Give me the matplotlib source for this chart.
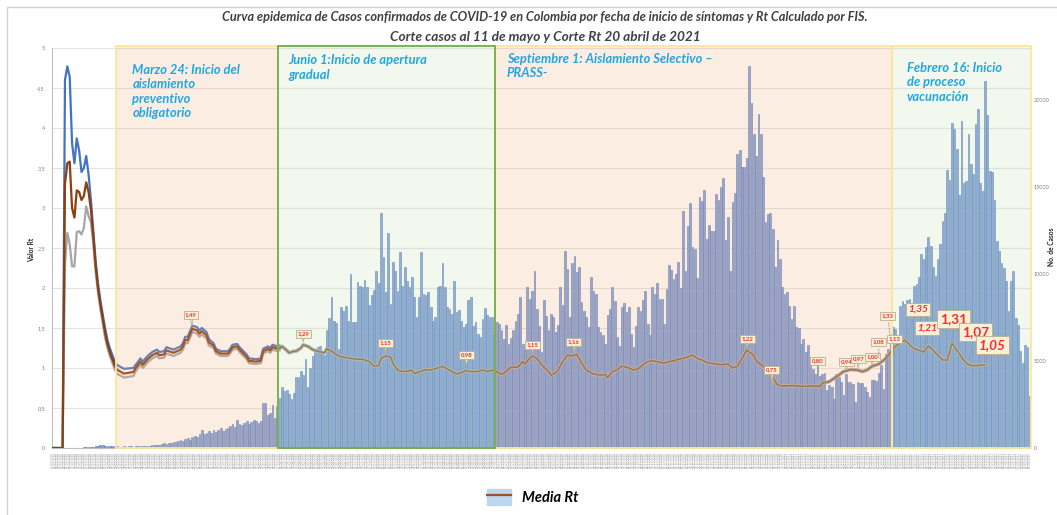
import numpy as np
import pandas as pd
import matplotlib
matplotlib.use('Agg')
import matplotlib.pyplot as plt
from matplotlib.patches import Rectangle, Patch
from matplotlib.lines import Line2D
from matplotlib.legend_handler import HandlerTuple
from matplotlib.ticker import FuncFormatter

plt.rcParams['font.family'] = ['Lato', 'DejaVu Sans']

# casos diarios por fecha de inicio de sintomas (desde 26/02/2020)
inicio = '2020-02-26'
casos = [
    # feb 26 - mar 24
    0, 0, 0, 0, 0, 0, 2, 3, 5, 8, 10, 15, 20, 30, 40, 50, 70, 80, 90, 110, 150, 170, 140, 120, 130, 110, 100, 120,
    # mar 25 - may 31
    80, 70, 90, 60, 100, 90, 80, 110, 100, 120, 90, 130, 140, 120,
    160, 150, 200, 180, 230, 260, 220, 300, 280, 350, 330, 400, 450, 380,
    500, 570, 480, 620, 700, 650, 820, 1010, 780, 870, 950, 860, 1010, 900,
    1050, 1150, 980, 1100, 1165, 1250, 1356, 1200, 1585, 1400, 1300, 1450, 1547, 1380,
    1500, 1620, 1580, 1450, 1550, 2600, 2600, 1900, 2025, 2500, 1700, 2440,
    # jun 1 - ago 31
    2850, 3500, 3300, 3360, 3100, 2790, 3190, 4090, 4090, 4400, 4200, 5100, 3500, 4600,
    5270, 5500, 5800, 5840, 5390, 5330, 6760, 7500, 8700, 7280, 7190, 5710, 8100, 7900,
    8180, 7300, 10000, 7230, 7230, 9530, 9340, 9240, 9660, 9240, 8230, 8800, 9090, 10200,
    9500, 13540, 11000, 8960, 12340, 8290, 10680, 10200, 9050, 11290, 9340, 10390, 9590, 9240,
    9820, 8670, 7560, 8670, 11250, 8860, 8770, 8960, 8100, 7330, 7530, 9240, 9340, 10640,
    9240, 8100, 8000, 7720, 9630, 7820, 7910, 7330, 6950, 7140, 8520, 8710, 6990, 7240,
    6570, 6380, 7430, 8060, 7620, 7560, 7530, 6530,
    # sep 1 - dic 26
    7240,
    7140, 6800, 6280, 7050, 6000, 6350, 6770, 7330, 7720, 8670,
    6000, 5620, 9240, 8560, 9000, 10200, 8000, 7010, 5520, 8520,
    7580, 6800, 7680, 7560, 6670, 7050, 9240, 8230, 11350, 10300,
    7520, 10620, 11060, 10100, 10390, 8370, 7890, 7530, 6950, 9820,
    9000, 8860, 6950, 6670, 6480, 6000, 7620, 8000, 9280, 8480,
    6380, 5850, 8100, 8330, 7810, 8100, 6530, 5800, 6990, 8100,
    7870, 8520, 9050, 7140, 6470, 9280, 8860, 9470, 8570, 8570,
    7140, 9150, 10540, 10240, 9720, 10010, 10680, 9210, 13640, 10160,
    12780, 14110, 11580, 11440, 9760, 14440, 14210, 14840, 12000, 12820,
    12500, 12500, 14630, 14250, 15030, 15510, 11970, 13260, 10200, 14170,
    14690, 16880, 17110, 16160, 16160, 16650, 21950, 19840, 18030, 16790,
    19210, 18030,
    # dic 27 - feb 15
    15600, 12970, 13450, 13540, 12590, 10390, 11960, 10870, 9240, 8860,
    8950, 8140, 7440, 8190, 6950, 6900, 6000, 6280, 5520, 5900,
    4890, 4570, 4280, 4760, 4130, 4280, 4320, 3360, 3610, 3530,
    2790, 4280, 4090, 3810, 3050, 4280, 3810, 3810, 3680, 2650,
    3810, 3720, 3760, 3530, 3240, 2960, 3910, 3910, 3870, 4320,
    4760, 3380, 5420, 5710, 6200,
    # feb 16 - abr 15
    6950, 6860, 6000, 8190, 8480, 8290, 8500, 8540, 8310, 9340, 9430, 9820,
    11150, 10870, 11540, 12150, 11630, 10390, 9910, 10870, 11730, 13060, 13540,
    15970, 15400, 18700, 18320, 17170, 14550, 18830, 15260, 15350, 18030,
    16350, 15740, 18640, 19520, 15260, 14750, 21090, 19140, 15930, 15890,
    14250, 11880, 11300, 10640, 10350, 9590, 7870, 9590, 10160, 7490, 7100, 5580,
    4900, 5900, 5800, 3000,
]

# Rt inicial: media, limite superior e inferior
rt_fechas_ini = ['2020-02-26', '2020-03-01', '2020-03-02', '2020-03-03', '2020-03-04', '2020-03-05',
                 '2020-03-06', '2020-03-07', '2020-03-08', '2020-03-09', '2020-03-10', '2020-03-11',
                 '2020-03-12', '2020-03-13', '2020-03-14', '2020-03-15', '2020-03-16', '2020-03-17',
                 '2020-03-18', '2020-03-19', '2020-03-20', '2020-03-21', '2020-03-22', '2020-03-23',
                 '2020-03-24', '2020-03-27', '2020-03-31', '2020-04-01', '2020-04-03', '2020-04-04',
                 '2020-04-06', '2020-04-08', '2020-04-10', '2020-04-11', '2020-04-13', '2020-04-14',
                 '2020-04-17', '2020-04-20', '2020-04-21', '2020-04-22', '2020-04-23', '2020-04-25',
                 '2020-04-27', '2020-04-28', '2020-04-29', '2020-05-01', '2020-05-02', '2020-05-04',
                 '2020-05-05', '2020-05-07', '2020-05-10', '2020-05-11', '2020-05-12', '2020-05-14',
                 '2020-05-15', '2020-05-18', '2020-05-19', '2020-05-22', '2020-05-24', '2020-05-25',
                 '2020-05-27', '2020-05-28', '2020-05-29', '2020-05-31', '2020-06-01']
rt_media_ini = [0, 0, 3.30, 3.56, 3.58, 3.00, 2.88, 3.22, 3.20, 3.10, 3.15, 3.32, 3.20, 2.98, 2.65, 2.28,
                2.00, 1.80, 1.62, 1.44, 1.30, 1.20, 1.12, 1.04, 0.98, 0.93, 0.95, 1.00, 1.08, 1.04,
                1.11, 1.16, 1.19, 1.16, 1.17, 1.22, 1.19, 1.23, 1.27, 1.35, 1.35, 1.49, 1.47, 1.43,
                1.46, 1.41, 1.32, 1.28, 1.21, 1.18, 1.18, 1.21, 1.26, 1.27, 1.23, 1.14, 1.09, 1.08,
                1.09, 1.21, 1.24, 1.22, 1.26, 1.24, 1.25]
rt_sup_ini = [0, 0, 4.60, 4.77, 4.64, 3.81, 3.56, 3.87, 3.72, 3.45, 3.50, 3.65, 3.42, 3.10, 2.72, 2.34,
              2.06, 1.85, 1.67, 1.50, 1.35, 1.25, 1.17, 1.09, 1.04, 0.99, 1.00, 1.04, 1.12, 1.08,
              1.15, 1.20, 1.23, 1.20, 1.21, 1.26, 1.23, 1.27, 1.31, 1.39, 1.39, 1.53, 1.51, 1.47,
              1.50, 1.45, 1.36, 1.31, 1.24, 1.21, 1.21, 1.24, 1.29, 1.30, 1.26, 1.17, 1.12, 1.11,
              1.12, 1.24, 1.27, 1.25, 1.29, 1.27, 1.28]
rt_inf_ini = [0, 0, 2.30, 2.69, 2.55, 2.27, 2.27, 2.70, 2.71, 2.67, 2.75, 3.02, 2.90, 2.82, 2.55, 2.20,
              1.94, 1.74, 1.56, 1.38, 1.25, 1.15, 1.07, 0.99, 0.93, 0.88, 0.90, 0.96, 1.04, 1.00,
              1.07, 1.12, 1.15, 1.12, 1.13, 1.18, 1.15, 1.19, 1.23, 1.31, 1.31, 1.45, 1.43, 1.39,
              1.42, 1.37, 1.28, 1.25, 1.18, 1.15, 1.15, 1.18, 1.23, 1.24, 1.20, 1.11, 1.06, 1.05,
              1.06, 1.18, 1.21, 1.19, 1.23, 1.21, 1.22]

# Rt media desde junio
rt_fechas = ['2020-06-01', '2020-06-02', '2020-06-04', '2020-06-05', '2020-06-07', '2020-06-08', '2020-06-10',
             '2020-06-11', '2020-06-13', '2020-06-15', '2020-06-17', '2020-06-20', '2020-06-21', '2020-06-23',
             '2020-06-26', '2020-06-29', '2020-07-01', '2020-07-04', '2020-07-06', '2020-07-09', '2020-07-11',
             '2020-07-13', '2020-07-14', '2020-07-16', '2020-07-18', '2020-07-19', '2020-07-21', '2020-07-23',
             '2020-07-25', '2020-07-27', '2020-07-28', '2020-07-29', '2020-07-31', '2020-08-02', '2020-08-04',
             '2020-08-07', '2020-08-09', '2020-08-11', '2020-08-13', '2020-08-15', '2020-08-17', '2020-08-19',
             '2020-08-21', '2020-08-24', '2020-08-26', '2020-08-28', '2020-08-30', '2020-09-01', '2020-09-03',
             '2020-09-05', '2020-09-07', '2020-09-10', '2020-09-12', '2020-09-13', '2020-09-15', '2020-09-16',
             '2020-09-18', '2020-09-20', '2020-09-23', '2020-09-24', '2020-09-26', '2020-09-27', '2020-09-29',
             '2020-10-01', '2020-10-03', '2020-10-05', '2020-10-07', '2020-10-09', '2020-10-12', '2020-10-15',
             '2020-10-17', '2020-10-18', '2020-10-20', '2020-10-22', '2020-10-24', '2020-10-27', '2020-10-29',
             '2020-10-31', '2020-11-02', '2020-11-04', '2020-11-06', '2020-11-08', '2020-11-11', '2020-11-13',
             '2020-11-15', '2020-11-17', '2020-11-19', '2020-11-21', '2020-11-23', '2020-11-25', '2020-11-27',
             '2020-11-29', '2020-12-01', '2020-12-03', '2020-12-05', '2020-12-08', '2020-12-10', '2020-12-12',
             '2020-12-14', '2020-12-16', '2020-12-19', '2020-12-20', '2020-12-23', '2020-12-26', '2020-12-29',
             '2020-12-31', '2021-01-05', '2021-01-09', '2021-01-13', '2021-01-16', '2021-01-17', '2021-01-20',
             '2021-01-23', '2021-01-26', '2021-01-29', '2021-02-01', '2021-02-03', '2021-02-05', '2021-02-07',
             '2021-02-10', '2021-02-13', '2021-02-15', '2021-02-17', '2021-02-20', '2021-02-21', '2021-02-23',
             '2021-02-25', '2021-02-27', '2021-03-01', '2021-03-03', '2021-03-04', '2021-03-07', '2021-03-09',
             '2021-03-11', '2021-03-12', '2021-03-13', '2021-03-15', '2021-03-17', '2021-03-19', '2021-03-21',
             '2021-03-24', '2021-03-27']
rt_media = [1.25, 1.27, 1.22, 1.19, 1.21, 1.21, 1.25, 1.29, 1.27, 1.23, 1.21, 1.19, 1.24, 1.21,
            1.15, 1.13, 1.12, 1.11, 1.11, 1.08, 1.02, 1.03, 1.12, 1.15, 1.14, 1.06, 0.975, 0.955,
            0.96, 0.975, 0.93, 0.94, 0.96, 0.98, 0.975, 1.00, 1.02, 0.99, 0.955, 0.925, 0.94, 0.97,
            0.955, 0.955, 0.975, 0.955, 0.975, 0.955, 0.92, 0.955, 1.01, 1.01, 1.08, 1.05, 1.12, 1.15,
            1.12, 1.04, 0.955, 0.91, 0.94, 0.975, 1.08, 1.16, 1.15, 1.17, 1.06, 0.975, 0.925, 0.91,
            0.92, 0.88, 0.955, 0.975, 1.025, 1.00, 0.975, 0.99, 1.04, 1.08, 1.09, 1.08, 1.06, 1.08,
            1.09, 1.11, 1.12, 1.14, 1.16, 1.12, 1.10, 1.07, 1.06, 1.05, 1.04, 1.05, 1.00, 1.02,
            1.12, 1.225, 1.16, 1.09, 1.02, 0.93, 0.79, 0.775, 0.78, 0.77, 0.775, 0.77, 0.81, 0.83,
            0.89, 0.955, 0.98, 0.975, 0.955, 0.975, 1.02, 1.05, 1.12, 1.20, 1.27, 1.33, 1.35, 1.29,
            1.24, 1.22, 1.20, 1.275, 1.25, 1.16, 1.10, 1.10, 1.20, 1.31, 1.225, 1.14, 1.06, 1.03,
            1.03, 1.04]

# periodos
periodo_inicio = ['2020-03-24', '2020-06-01', '2020-09-01', '2021-02-16']
periodo_texto = ['Marzo 24: Inicio del\naislamiento\npreventivo\nobligatorio',
                 'Junio 1:Inicio de apertura\ngradual',
                 'Septiembre 1: Aislamiento Selectivo –\nPRASS-',
                 'Febrero 16: Inicio\nde proceso\nvacunación']
periodo_offset = [(12, -11.5), (7, -4.5), (8, -3.5), (11, -10)]

# etiquetas de Rt
etiqueta_fecha = ['2020-04-25', '2020-06-11', '2020-07-16', '2020-08-19', '2020-09-16', '2020-10-04',
                  '2020-12-16', '2020-12-27', '2021-01-15', '2021-01-27', '2021-02-01', '2021-02-07',
                  '2021-02-10', '2021-02-15', '2021-02-16', '2021-02-21', '2021-03-01', '2021-03-13',
                  '2021-03-20', '2021-03-27']
etiqueta_texto = ['1,49', '1,29', '1,15', '0,98', '1,15', '1,16', '1,22', '0,75', '0,80', '0,94',
                  '0,97', '1,00', '1,08', '1,33', '1,13', '1,35', '1,21', '1,31', '1,07', '1,05']

# estilo de etiquetas: desplazamiento (pt) y tipo
etq_offset = [(-1, 10), (0, 8), (0, 9.4), (0.6, 10.5), (0.5, 8), (-0.5, 9.5), (0.7, 8.2), (-0.7, 13),
              (0, 16.6), (0.6, 7.8), (0.7, 8.2), (0.6, 8), (0, 14), (-2, 18.4), (1.2, 13.4),
              (9.2, 22.3), (2.2, 16.7), (1, 17.4), (5, 21.9), (5.5, 13.7)]
etq_tipo = ['s'] * 15 + ['m', 'm', 'l', 'l', 'li']

fechas = pd.date_range(inicio, periods=len(casos), freq='D')
t0 = fechas[0]


def dia(f):
    return (pd.to_datetime(f) - t0).days


n = len(casos)
x = np.arange(n)

fig = plt.figure(figsize=(10.57, 5.15), dpi=100)
ax = fig.add_axes([52 / 1057, 1 - 448 / 515, (1031 - 52) / 1057, 400 / 515])
ax2 = ax.twinx()

# barras de casos (eje derecho)
ax.bar(x, casos, width=0.75, color='#84A2D8', edgecolor='#4F77C2', linewidth=0.4, zorder=2)
ax.set_ylim(0, 23000)
ax.set_xlim(-0.5, n - 0.5)
ax.yaxis.tick_right()
ax.set_yticks([0, 5000, 10000, 15000, 20000])
ax.set_yticks(np.linspace(0, 23000, 11), minor=True)
ax.tick_params(axis='y', which='both', length=0, labelsize=4, labelcolor='#7F7F7F', pad=2)
ax.grid(axis='y', which='minor', color='#E3E3E3', lw=0.8)
ax.set_axisbelow(True)
ax.set_xticks(x)
ax.set_xticklabels(fechas.strftime('%d/%m/%Y'), rotation=90, fontsize=2.1, color='#9A9A9A')
ax.tick_params(axis='x', length=0, pad=3)
for s in ['top', 'right', 'left']:
    ax.spines[s].set_visible(False)
ax.spines['bottom'].set_color('#BFBFBF')

# Rt (eje izquierdo)
ax2.yaxis.tick_left()
ax2.set_ylim(0, 5)
ax2.set_yticks(np.arange(0, 5.01, 0.5))
ax2.yaxis.set_major_formatter(FuncFormatter(lambda v, _: f'{v:g}'.replace('.', ',')))
ax2.tick_params(axis='y', length=0, labelsize=4, labelcolor='#7F7F7F', pad=5)
for s in ['top', 'right', 'bottom']:
    ax2.spines[s].set_visible(False)
ax2.spines['left'].set_color('#BFBFBF')

d_ini = [dia(f) for f in rt_fechas_ini]
ax2.plot(d_ini, rt_sup_ini, color='#4472C4', lw=1.6, zorder=3)
ax2.plot(d_ini, rt_inf_ini, color='#A5A5A5', lw=1.6, zorder=3)
ax2.plot(d_ini, rt_media_ini, color='#8B3E0F', lw=1.6, zorder=3.1)
d_rt = [dia(f) for f in rt_fechas]
ax2.plot(d_rt, rt_media, color='#B3ABA4', lw=2.6, zorder=3)
ax2.plot(d_rt, rt_media, color='#85644C', lw=1.1, zorder=3.1)

# periodos: rellenos translucidos sobre la grafica
p_ini = [dia(f) - 0.5 for f in periodo_inicio]
p_fin = p_ini[1:] + [n - 0.5]
rellenos = ['#F4B183', '#C5E0B4', '#F4B183', '#C5E0B4']
bordes = ['#FFE699', '#70AD47', '#FFE699', '#FFE699']
orden = [0, 2, 3, 1]
for i in orden:
    ax2.add_patch(Rectangle((p_ini[i], 0), p_fin[i] - p_ini[i], 5.03, fc=rellenos[i], alpha=0.22,
                            ec='none', zorder=4, clip_on=False))
for i in orden:
    ax2.add_patch(Rectangle((p_ini[i], 0), p_fin[i] - p_ini[i], 5.03, fill=False, ec=bordes[i],
                            lw=1.3, zorder=4.1, clip_on=False))
for i in range(4):
    ax2.annotate(periodo_texto[i], xy=(p_ini[i], 5), xytext=periodo_offset[i], textcoords='offset points',
                 ha='left', va='top', fontsize=9.3, fontweight='bold', fontstyle='italic',
                 color='#1FA7E3', linespacing=1.25, zorder=6)

# etiquetas de Rt
estilos = {'s': (4.3, 'normal'), 'm': (7.3, 'italic'), 'l': (9.8, 'normal'), 'li': (9.8, 'italic')}
caja = dict(fc='#F7F0D8', ec='#BDB089', lw=0.6)
for k, (f, t, off, tp) in enumerate(zip(etiqueta_fecha, etiqueta_texto, etq_offset, etq_tipo)):
    val = float(t.replace(',', '.'))
    fs, st = estilos[tp]
    pad = 0.25 if tp == 's' else 0.2
    lider = tp != 's' or off[1] > 13
    if lider:
        flecha = dict(arrowstyle='-', ls=':', color='#9A9A9A', lw=0.7)
    else:
        flecha = dict(arrowstyle='wedge,tail_width=0.35,shrink_factor=0.5', shrinkA=0, shrinkB=2, **caja)
    ax2.annotate(t, xy=(dia(f), val), xytext=off, textcoords='offset points', ha='center', va='center',
                 fontsize=fs, fontweight='bold', fontstyle=st, color='#FF2B2B', zorder=7 + k * 0.01,
                 bbox=dict(boxstyle=f'square,pad={pad}', **caja), arrowprops=flecha)

# titulos y ejes
fig.text(545 / 1057, 1 - 17 / 515,
         'Curva epidemica de Casos confirmados de COVID-19 en Colombia por fecha de inicio de síntomas y Rt Calculado por FIS.',
         ha='center', va='center', fontsize=9.2, fontweight='bold', fontstyle='italic', color='#404040')
fig.text(545 / 1057, 1 - 37 / 515, 'Corte casos al 11 de mayo y Corte Rt 20 abril de 2021',
         ha='center', va='center', fontsize=9.8, fontweight='bold', fontstyle='italic', color='#404040')
fig.text(32 / 1057, 1 - 250 / 515, 'Valor Rt', rotation=90, ha='center', va='center', fontsize=4.8,
         fontweight='bold', color='#202020')
fig.text(1051 / 1057, 1 - 247 / 515, 'No. de Casos', rotation=90, ha='center', va='center', fontsize=4.8,
         fontweight='bold', color='#202020')

# leyenda
h_patch = Patch(facecolor='#BDD7EE', edgecolor='#BDD7EE')
h_line = Line2D([], [], color='#A0522D', lw=1.6)
fig.legend(handles=[(h_patch, h_line)], labels=['Media Rt'], loc='center',
           bbox_to_anchor=(533 / 1057, 1 - 497 / 515), frameon=False,
           handler_map={tuple: HandlerTuple(ndivide=1)}, handlelength=1.6, handleheight=1.3,
           prop=dict(weight='bold', style='italic', size=10.5))

# marco exterior
fig.add_artist(Rectangle((7 / 1057, -0.1), 2, 1.1 - 7 / 515, transform=fig.transFigure,
                         fill=False, ec='#D0D0D0', lw=1))

fig.savefig('out.png', dpi=100)
